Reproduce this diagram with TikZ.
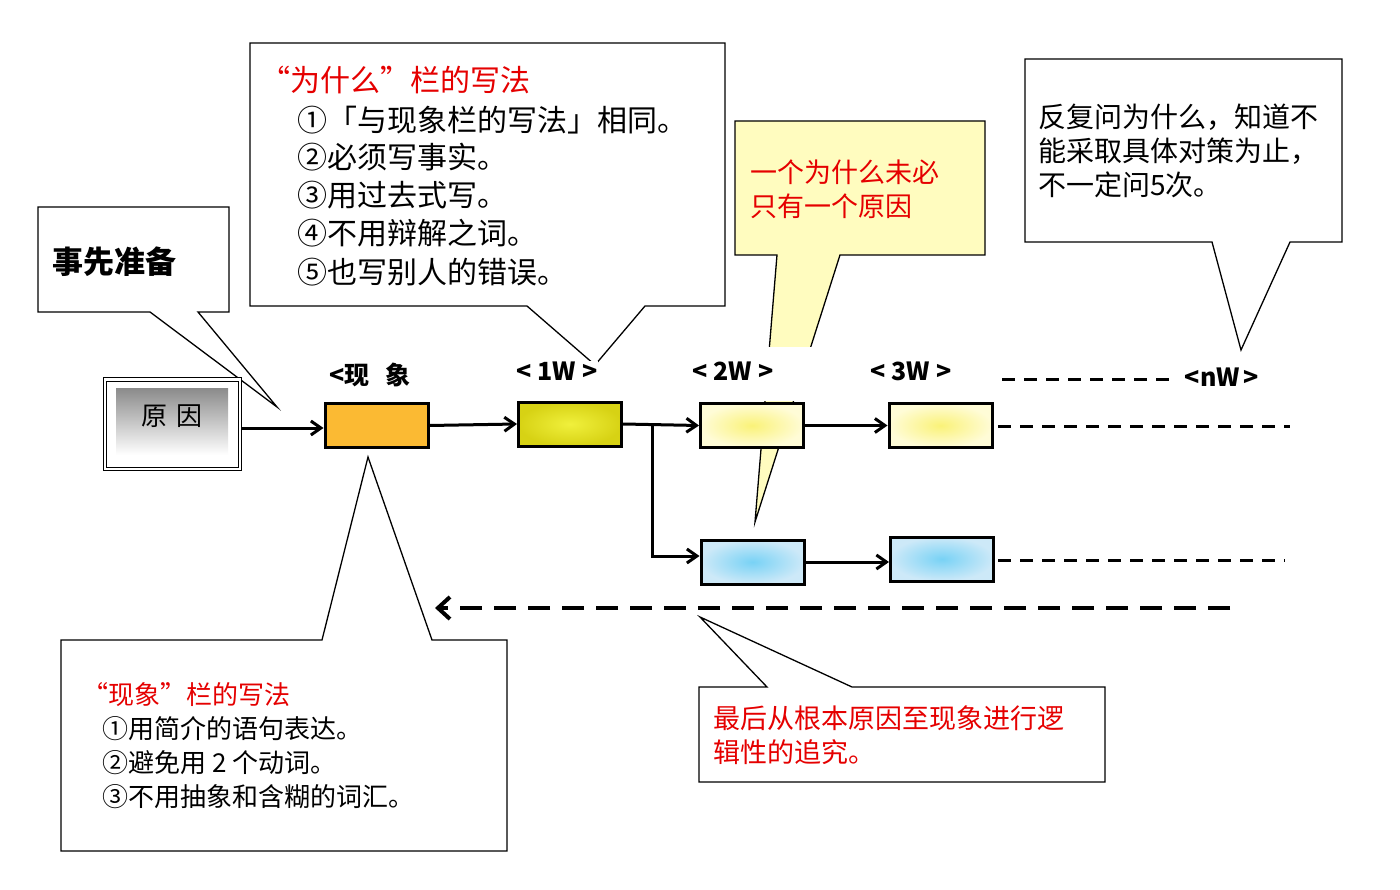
\documentclass[tikz,border=0pt]{standalone}
\usepackage{fontspec}
\setmainfont{Noto Sans CJK SC}
\usetikzlibrary{arrows.meta}
\begin{document}
\begin{tikzpicture}[x=1pt,y=-1pt,
 call/.style={draw=black,line width=1.3pt,fill=white},
 box/.style={draw=black,line width=3pt,minimum width=103pt,minimum height=44pt,inner sep=0pt},
 conn/.style={line width=3pt,-{Straight Barb[length=10pt,width=14pt]}},
 dsh/.style={line width=3pt,dash pattern=on 13pt off 9pt},
 lab/.style={font=\fontsize{25}{27}\selectfont\bfseries,fill=white,inner sep=1pt},
 txt/.style={anchor=west,inner sep=0pt},
 red/.style={text=red!90!black}]
\useasboundingbox (0,0) rectangle (1400,890);
% callout 事先准备
\draw[call] (38,207)--(229,207)--(229,312)--(198,312)--(277,407)--(150,312)--(38,312)--cycle;
\node[txt,font=\fontsize{31}{33}\selectfont\bfseries] (prep) at (52,262) {事先准备};
% big callout
\draw[call] (250,43)--(725,43)--(725,306)--(645,306)--(595,365)--(527,306)--(250,306)--cycle;
\node[txt,red,font=\fontsize{30}{32}\selectfont] (t0) at (260,80) {“为什么”栏的写法};
\begin{scope}[every node/.style={txt,font=\fontsize{30}{32}\selectfont}]
\node (t1) at (297,120) {①「与现象栏的写法」相同。};
\node (t2) at (297,157) {②必须写事实。};
\node (t3) at (297,195) {③用过去式写。};
\node (t4) at (297,233) {④不用辩解之词。};
\node (t5) at (297,272) {⑤也写别人的错误。};
\end{scope}
% yellow callout
\draw[call,fill=yellow!25] (735,121)--(985,121)--(985,255)--(840,255)--(755,522)--(777,255)--(735,255)--cycle;
\fill[white] (735,347) rectangle (840,401);
\node[txt,red,align=left,font=\fontsize{27}{34}\selectfont] (ytx) at (750,189) {一个为什么未必\\只有一个原因};
% right callout
\draw[call] (1025,59)--(1342,59)--(1342,242)--(1290,242)--(1241,350)--(1212,242)--(1025,242)--cycle;
\node[txt,align=left,font=\fontsize{28}{34}\selectfont] (rtx) at (1038,151) {反复问为什么，知道不\\能采取具体对策为止，\\不一定问5次。};
% labels
\node[lab] (l0) at (370,375) {<现\hspace{16pt}象};
\node[lab] (l1) at (557,371) {<\ 1W\ >};
\node[lab] (l2) at (733,371) {<\ 2W\ >};
\node[lab] (l3) at (911,371) {<\ 3W\ >};
\node[lab] (ln) at (1222,377) {<nW\,>};
% cause box
\draw[line width=1pt,fill=white] (103,378) rectangle (241,470);
\draw[line width=0.6pt] (106,381) rectangle (238,467);
\shade[top color=black!45,bottom color=white] (116,389) rectangle (228,455);
\node[font=\fontsize{26}{28}\selectfont] (cause) at (172,416) {原\hspace{10pt}因};
% boxes
\node[box,fill={rgb,255:red,251;green,186;blue,51}] (ph) at (376.5,425.5) {};
\node[box,inner color={rgb,255:red,240;green,240;blue,60},outer color={rgb,255:red,215;green,210;blue,20}] (w1) at (570,424) {};
\node[box,inner color={rgb,255:red,250;green,242;blue,120},outer color={rgb,255:red,255;green,252;blue,215}] (w2) at (752,425.5) {};
\node[box,inner color={rgb,255:red,250;green,242;blue,120},outer color={rgb,255:red,255;green,252;blue,215}] (w3) at (940.5,425.5) {};
\node[box,inner color={rgb,255:red,120;green,210;blue,245},outer color={rgb,255:red,205;green,233;blue,248}] (b2) at (752.5,562) {};
\node[box,inner color={rgb,255:red,120;green,210;blue,245},outer color={rgb,255:red,205;green,233;blue,248}] (b3) at (942,559) {};
% connectors
\coordinate (c0) at (241,428);
\draw[conn] (c0) -- (ph.west|-c0);
\draw[conn] (ph.east) -- (w1.west);
\draw[conn] (w1.east) -- (w2.west);
\coordinate (br) at (652,424);
\coordinate (br2) at (652,556);
\draw[conn] (br) -- (br2) -- (b2.west|-br2);
\draw[conn] (w2.east) -- (w3.west);
\draw[conn] (b2.east) -- (b3.west|-b2.east);
% dashed
\coordinate (d1) at (1002,380); \coordinate (d2) at (1175,380);
\draw[dsh] (d1) -- (d2);
\coordinate (d3s) at (998,426); \coordinate (d3) at (1290,426); \draw[dsh] (d3s) -- (d3);
\coordinate (d4s) at (998,560); \coordinate (d4) at (1285,560); \draw[dsh] (d4s) -- (d4);
\coordinate (a1) at (1230,608); \coordinate (a2) at (435,608);
\draw[line width=4pt,dash pattern=on 22pt off 12pt,-{Straight Barb[length=12pt,width=22pt]}] (a1) -- (a2);
% bottom left callout
\draw[call] (61,640)--(322,640)--(368,457)--(432,640)--(507,640)--(507,851)--(61,851)--cycle;
\node[txt,red,font=\fontsize{26}{28}\selectfont] (p0) at (82,695) {“现象”栏的写法};
\begin{scope}[every node/.style={txt,font=\fontsize{26}{28}\selectfont}]
\node (p1) at (102,729) {①用简介的语句表达。};
\node (p2) at (102,763) {②避免用 2 个动词。};
\node (p3) at (102,797) {③不用抽象和含糊的词汇。};
\end{scope}
% bottom right callout
\draw[call] (699,687)--(767,687)--(700,617)--(852,687)--(1105,687)--(1105,782)--(699,782)--cycle;
\node[txt,red,align=left,font=\fontsize{27}{34}\selectfont] (btx) at (713,735) {最后从根本原因至现象进行逻\\辑性的追究。};
\end{tikzpicture}
\end{document}
